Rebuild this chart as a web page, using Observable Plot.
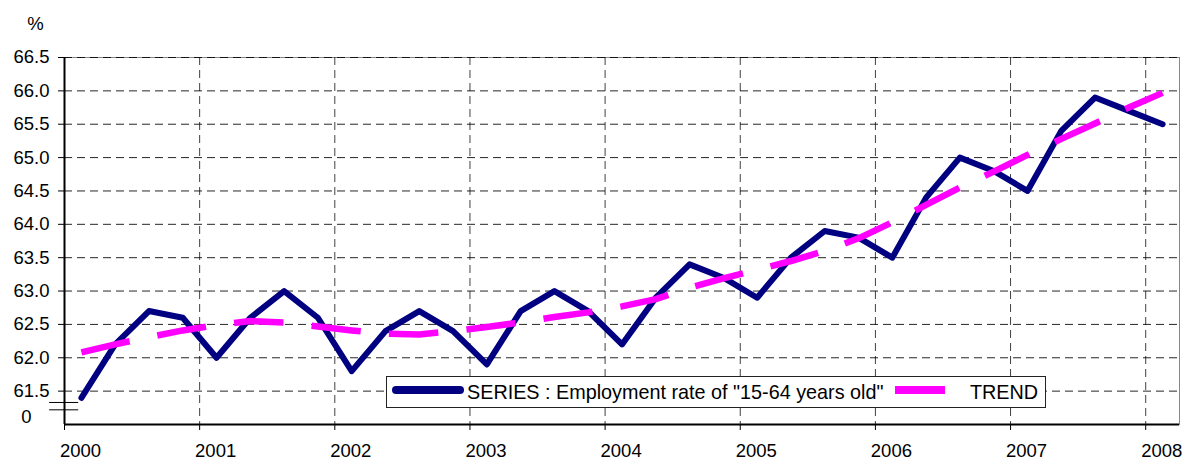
<!DOCTYPE html>
<html>
<head>
<meta charset="utf-8">
<script src="https://cdn.jsdelivr.net/npm/d3@7"></script>
<script src="https://cdn.jsdelivr.net/npm/@observablehq/plot@0.6"></script>
<style>
  html, body { margin: 0; padding: 0; background: #fff; }
  #wrap { position: relative; width: 1185px; height: 460px; font-family: "Liberation Sans", Arial, sans-serif; }
  #legend { position: absolute; left: 386px; top: 376px; width: 658px; height: 30px; border: 1px solid #222; background: #fff; box-sizing: content-box; }
  #legend .sw { position: absolute; top: 9px; height: 8px; }
  #legend .lb { position: absolute; top: 0; line-height: 30px; font-size: 19.8px; color: #000; white-space: nowrap; }
</style>
</head>
<body>
<div id="wrap"></div>
<script>
// ---- data ----
const periods = [
  "2000 Q1","2000 Q2","2000 Q3","2000 Q4",
  "2001 Q1","2001 Q2","2001 Q3","2001 Q4",
  "2002 Q1","2002 Q2","2002 Q3","2002 Q4",
  "2003 Q1","2003 Q2","2003 Q3","2003 Q4",
  "2004 Q1","2004 Q2","2004 Q3","2004 Q4",
  "2005 Q1","2005 Q2","2005 Q3","2005 Q4",
  "2006 Q1","2006 Q2","2006 Q3","2006 Q4",
  "2007 Q1","2007 Q2","2007 Q3","2007 Q4",
  "2008 Q1"
];
const seriesValues = [
  61.4, 62.2, 62.7, 62.6,
  62.0, 62.6, 63.0, 62.6,
  61.8, 62.4, 62.7, 62.4,
  61.9, 62.7, 63.0, 62.7,
  62.2, 62.9, 63.4, 63.2,
  62.9, 63.5, 63.9, 63.8,
  63.5, 64.4, 65.0, 64.8,
  64.5, 65.4, 65.9, 65.7,
  65.5
];
const trendValues = [
  62.08, 62.20, 62.31, 62.41,
  62.49, 62.55, 62.53, 62.47,
  62.41, 62.36, 62.35, 62.40,
  62.46, 62.53, 62.61, 62.68,
  62.77, 62.88, 63.05, 63.19,
  63.32, 63.45, 63.60, 63.79,
  64.03, 64.29, 64.55, 64.79,
  65.04, 65.28, 65.51, 65.75,
  65.97
];
const years = [2000, 2001, 2002, 2003, 2004, 2005, 2006, 2007, 2008];
const yTicks = [61.5, 62.0, 62.5, 63.0, 63.5, 64.0, 64.5, 65.0, 65.5, 66.0, 66.5];
const axisBreak = [61.22, 61.33];
const seriesName = 'SERIES : Employment rate of "15-64 years old"';
const trendName = "TREND";

// ---- build table ----
const toT = p => { const [y, q] = p.split(" Q"); return +y + (+q - 0.5) / 4; };
const series = periods.map((p, i) => ({t: toT(p), v: seriesValues[i]}));
const trend = periods.map((p, i) => ({t: toT(p), v: trendValues[i]}));

const chart = Plot.plot({
  width: 1185,
  height: 460,
  marginLeft: 64,
  marginRight: 6,
  marginTop: 57,
  marginBottom: 36,
  style: {fontFamily: "Liberation Sans, Arial, sans-serif", fontSize: "18.5px", background: "#fff", color: "#000"},
  x: {domain: [2000, 2008.25], axis: null},
  y: {domain: [61, 66.5], axis: null},
  marks: [
    Plot.frame({stroke: "#888"}),
    Plot.ruleY(yTicks, {stroke: "#000", strokeOpacity: 0.85, strokeDasharray: "8,5"}),
    Plot.ruleX(years.slice(1), {stroke: "#000", strokeOpacity: 0.75, strokeDasharray: "8,5"}),
    Plot.ruleX([years[0]], {stroke: "#000", strokeWidth: 2}),
    Plot.ruleY([61], {stroke: "#000", strokeWidth: 2}),
    Plot.axisY({ticks: yTicks, tickSize: 6, tickPadding: 9, tickFormat: d3.format(".1f"), label: null}),
    Plot.axisX({ticks: years, tickSize: 6, tickFormat: () => "", label: null}),
    Plot.ruleY(axisBreak, {x1: 1999.89, x2: 2000.105, stroke: "#000", strokeWidth: 1}),
    Plot.text(["0"], {x: years[0], y: 61.105, text: d => d, dx: -38, textAnchor: "middle"}),
    Plot.text(years, {x: d => d, frameAnchor: "bottom", dy: 27, dx: 16, text: d => String(d), textAnchor: "middle", lineAnchor: "middle"}),
    Plot.text(["%"], {frameAnchor: "top-left", dx: -29, dy: -33, text: d => d, textAnchor: "middle", lineAnchor: "middle"}),
    Plot.line(series, {x: "t", y: "v", stroke: "#000080", strokeWidth: 6, strokeLinejoin: "round", strokeLinecap: "round"}),
    Plot.line(trend, {x: "t", y: "v", stroke: "#ff00ff", strokeWidth: 6.5, strokeDasharray: "49.5,28.3", strokeLinecap: "butt"})
  ]
});

const wrap = document.getElementById("wrap");
wrap.appendChild(chart);

const legend = document.createElement("div");
legend.id = "legend";
legend.innerHTML =
  '<div class="sw" style="left:5px;width:72px;background:#000080;border-radius:4px;"></div>' +
  '<span class="lb" style="left:80px;"></span>' +
  '<div class="sw" style="left:508px;width:50px;background:#ff00ff;"></div>' +
  '<span class="lb" style="left:583px;"></span>';
const labels = legend.querySelectorAll(".lb");
labels[0].textContent = seriesName;
labels[1].textContent = trendName;
wrap.appendChild(legend);
</script>
</body>
</html>
